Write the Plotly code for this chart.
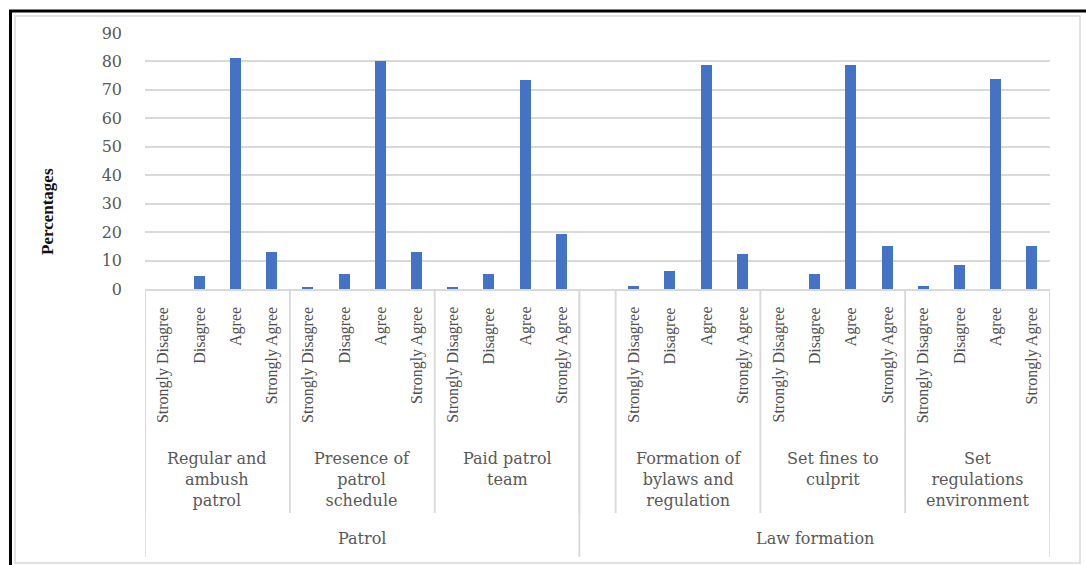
import plotly.graph_objects as go

# ---- data -------------------------------------------------------------
responses = ["Strongly Disagree", "Disagree", "Agree", "Strongly Agree"]

groups = ["Patrol", "Law formation"]
patrol_items = ["Regular and<br>ambush<br>patrol",
                "Presence of<br>patrol<br>schedule",
                "Paid patrol<br>team"]
law_items = ["",  # empty spacer category in the source sheet
             "Formation of<br>bylaws and<br>regulation",
             "Set fines to<br>culprit",
             "Set<br>regulations<br>environment"]

regular_ambush = [0.0, 4.4, 81.3, 13.0]
patrol_schedule = [0.5, 5.1, 80.0, 13.0]
paid_team = [0.5, 5.1, 73.5, 19.5]
bylaws = [0.9, 6.5, 78.7, 12.2]
set_fines = [0.0, 5.1, 78.7, 15.1]
set_regulations = [1.2, 8.6, 73.9, 15.1]

patrol_values = [regular_ambush, patrol_schedule, paid_team]
law_values = [None, bylaws, set_fines, set_regulations]

# ---- layout constants (pixels) ----------------------------------------
W, H = 1086, 565
ML, MR, MT, MB = 145, 36, 33, 276
PW, PH = W - ML - MR, H - MT - MB
GRID = "#d9d9d9"
TXT = "#595959"
BAR = "#4472C4"


def px_x(p):
    return (p - ML) / PW


def px_y(p):
    return (H - MB - p) / PH


# ---- flatten the three-level category axis ----------------------------
xs, ys = [], []
resp_labels = []          # (slot, text)
item_spans = []           # (start, end, text)
group_spans = []          # (start, end, text)
slot = 0
for gname, items, vals in [(groups[0], patrol_items, patrol_values),
                           (groups[1], law_items, law_values)]:
    g_start = slot
    for item, v in zip(items, vals):
        i_start = slot
        if v is None:
            slot += 1
        else:
            for r, val in zip(responses, v):
                xs.append(slot)
                ys.append(val)
                resp_labels.append((slot, r))
                slot += 1
        item_spans.append((i_start, slot, item))
    group_spans.append((g_start, slot, gname))
n_slots = slot

fig = go.Figure(go.Bar(x=xs, y=ys, width=0.3, marker_color=BAR,
                       marker_line_width=0, hoverinfo="x+y"))

shapes = []
annotations = []

# response labels (rotated)
for s, r in resp_labels:
    annotations.append(dict(x=s, y=px_y(305), xref="x", yref="paper",
                            text=r, textangle=-90, showarrow=False,
                            xanchor="center", yanchor="top",
                            font=dict(family="Liberation Serif", size=16, color="#505050")))

# item labels and separators
for a, b, t in item_spans:
    if t:
        annotations.append(dict(x=(a + b - 1) / 2, y=px_y(447), xref="x", yref="paper",
                                text=t, showarrow=False, xanchor="center", yanchor="top",
                                align="center",
                                font=dict(family="DejaVu Serif", size=16, color=TXT)))
    for edge in (a - 0.5, b - 0.5):
        shapes.append(dict(type="line", xref="x", yref="paper",
                           x0=edge, x1=edge, y0=px_y(289), y1=px_y(513),
                           line=dict(color=GRID, width=1.5)))

# group labels and separators
for a, b, t in group_spans:
    annotations.append(dict(x=(a + b - 1) / 2, y=px_y(538), xref="x", yref="paper",
                            text=t, showarrow=False, xanchor="center", yanchor="middle",
                            font=dict(family="DejaVu Serif", size=16, color=TXT)))
    for edge in (a - 0.5, b - 0.5):
        shapes.append(dict(type="line", xref="x", yref="paper",
                           x0=edge, x1=edge, y0=px_y(289), y1=px_y(557),
                           line=dict(color=GRID, width=1.5)))

# y-axis title
annotations.append(dict(x=px_x(47), y=px_y(212), xref="paper", yref="paper",
                        text="<b>Percentages</b>", textangle=-90, showarrow=False,
                        xanchor="center", yanchor="middle",
                        font=dict(family="Liberation Serif", size=17, color="#111111")))

# chart-area border (light) and outer frame (black, top and left)
shapes.append(dict(type="rect", xref="paper", yref="paper",
                   x0=px_x(15), x1=px_x(1080), y0=px_y(563), y1=px_y(16),
                   line=dict(color=GRID, width=1.5), layer="below"))
shapes.append(dict(type="line", xref="paper", yref="paper",
                   x0=px_x(10.5), x1=px_x(10.5), y0=px_y(565), y1=px_y(10),
                   line=dict(color="black", width=3)))
shapes.append(dict(type="line", xref="paper", yref="paper",
                   x0=px_x(9), x1=px_x(1086), y0=px_y(11), y1=px_y(11),
                   line=dict(color="black", width=3)))

fig.update_layout(
    width=W, height=H,
    margin=dict(l=ML, r=MR, t=MT, b=MB),
    paper_bgcolor="white", plot_bgcolor="white",
    showlegend=False,
    bargap=0,
    shapes=shapes,
    annotations=annotations,
    xaxis=dict(range=[-0.5, n_slots - 0.5], showticklabels=False, showgrid=False,
               zeroline=False, showline=True, linecolor=GRID, linewidth=1.5,
               fixedrange=True),
    yaxis=dict(range=[0, 90], dtick=10, showgrid=True, gridcolor=GRID, gridwidth=1.5,
               zeroline=False, showline=False, ticks="", ticklabelstandoff=22,
               tickfont=dict(family="DejaVu Serif", size=16, color=TXT),
               fixedrange=True),
)

fig.write_html("out.html")
